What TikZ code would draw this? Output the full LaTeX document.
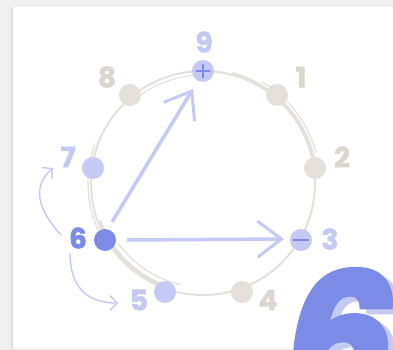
\documentclass[tikz,border=0pt]{standalone}
\usepackage{fontspec}
\setmainfont{Poppins}[BoldFeatures={FakeBold=2}]
\newfontfamily\bigfont{Poppins}[BoldItalicFeatures={FakeBold=3.5}]
\usetikzlibrary{arrows.meta}
\definecolor{bgray}{HTML}{EFEFEF}
\definecolor{beige}{HTML}{E6E0DA}
\definecolor{beigetxt}{HTML}{DDD6CF}
\definecolor{lblue}{HTML}{C5CAF4}
\definecolor{dblue}{HTML}{7B8BE6}
\tikzset{
  dot/.style={circle,minimum size=22pt,inner sep=0pt},
  bdot/.style={dot,fill=beige},
  ldot/.style={dot,fill=lblue},
  ddot/.style={dot,fill=dblue},
  lab/.style={font=\bfseries\fontsize{28}{28}\selectfont,inner sep=0pt},
  ring/.style={draw=beige,line width=2pt},
  bigarrow/.style={draw=lblue,line width=3.5pt,-{Straight Barb[length=24pt,width=36pt,line width=3pt]}},
  thinarrow/.style={draw=lblue,line width=1.4pt,-{Straight Barb[length=7pt,width=15pt,line width=1.4pt]}}
}
\begin{document}
\begin{tikzpicture}[x=1pt,y=-1pt]
\useasboundingbox (0,0) rectangle (393,350);
\fill[bgray] (0,0) rectangle (393,350);
\fill[black!12] (11,8) rectangle (14,349);
\fill[white] (13,7) rectangle (393,348);
% ring
\coordinate (c) at (203,183);
\draw[ring] (c) circle[radius=112];
\draw[draw=beige,line width=1pt] (c) ++(-92:108) arc[start angle=-92,end angle=-128,radius=108];
\draw[draw=beige,line width=3.5pt] (c) ++(-75:113) arc[start angle=-75,end angle=-8,radius=113];
\draw[draw=beige,line width=1.2pt] (c) ++(-60:117) arc[start angle=-60,end angle=-15,radius=117];
\draw[draw=beige,line width=3.5pt] (c) ++(-200:110) arc[start angle=-200,end angle=-252,radius=110];
\draw[draw=beige,line width=1.2pt] (c) ++(-215:104) arc[start angle=-215,end angle=-258,radius=104];
\draw[draw=beige,line width=1.2pt] (c) ++(-160:115) arc[start angle=-160,end angle=-205,radius=115];
% dots
\node[ldot] (n9) at (203,71) {};
\node[bdot] (n1) at (277,95) {};
\node[bdot] (n2) at (315,168) {};
\node[ldot] (n3) at (301,240) {};
\node[bdot] (n4) at (242,292) {};
\node[ldot] (n5) at (165,292) {};
\node[ddot] (n6) at (105,240) {};
\node[ldot] (n7) at (93,168) {};
\node[bdot] (n8) at (130,95) {};
\draw[dblue,line width=1.5pt] (n9.center) ++(-7,0) -- ++(14,0);
\draw[dblue,line width=1.5pt] (n9.center) ++(0,-7) -- ++(0,14);
\draw[dblue,line width=1.5pt] (n3.center) ++(-8,0) -- ++(16,0);
% labels
\node[lab,text=lblue] (l9) at (204,42) {9};
\node[lab,text=beigetxt] (l1) at (301,77) {1};
\node[lab,text=beigetxt] (l2) at (342,157) {2};
\node[lab,text=lblue] (l3) at (330,239) {3};
\node[lab,text=beigetxt] (l4) at (268,300) {4};
\node[lab,text=lblue] (l5) at (139,300) {5};
\node[lab,text=dblue] (l6) at (78,238) {6};
\node[lab,text=lblue] (l7) at (68,157) {7};
\node[lab,text=beigetxt] (l8) at (107,77) {8};
% arrows
\coordinate (s9) at (112,222);
\coordinate (a9) at (193,89);
\coordinate (s3) at (127,240);
\coordinate (a3) at (284,239);
\draw[bigarrow] (s9) -- (a9);
\draw[bigarrow] (s3) -- (a3);
\coordinate (u7) at (61,235);
\coordinate (t7) at (53,168);
\coordinate (u5) at (70,253);
\coordinate (t5) at (118,303);
\draw[thinarrow] (u7) .. controls (40,212) and (30,188) .. (t7);
\draw[thinarrow] (u5) .. controls (70,290) and (90,303) .. (t5);
% big six
\node[font=\bigfont\bfseries\itshape\fontsize{172}{172}\selectfont,text=lblue,anchor=base west,inner sep=0pt] (s6b) at (292,403) {6};
\node[font=\bigfont\bfseries\itshape\fontsize{172}{172}\selectfont,text=dblue,anchor=base west,inner sep=0pt] (s6) at (285,398) {6};
\end{tikzpicture}
\end{document}
